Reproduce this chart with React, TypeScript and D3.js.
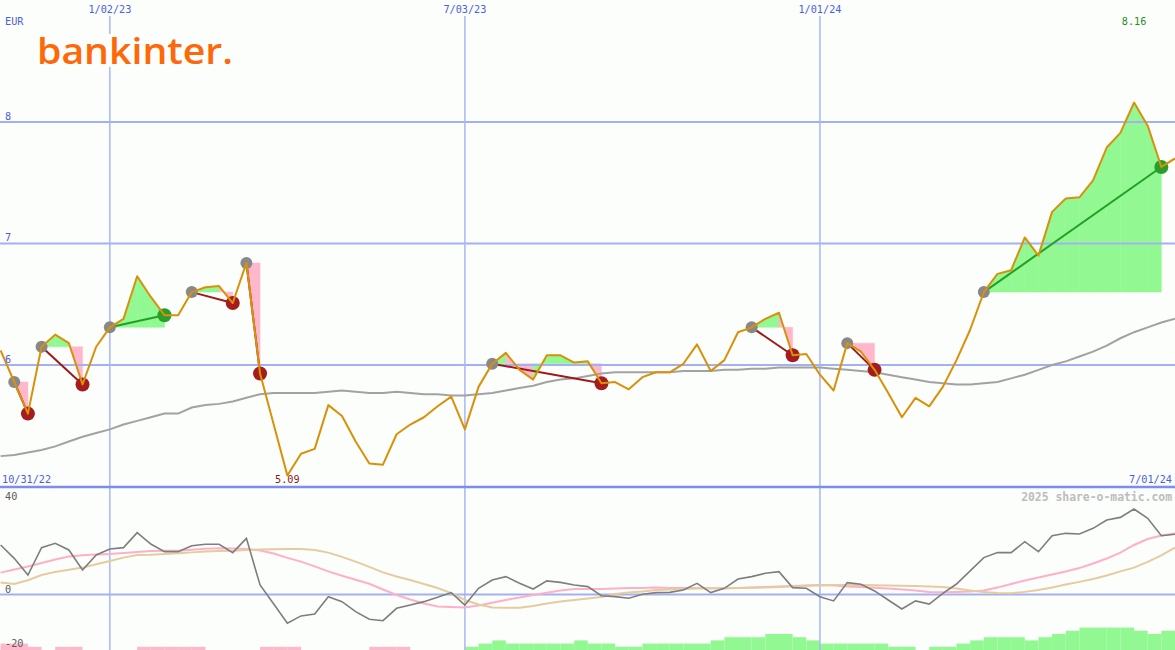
import React from 'react';
import * as d3 from 'd3';

// ---------- DATA ----------
const firstWeek = Date.UTC(2022, 10, 7);
const lastWeek = Date.UTC(2024, 6, 1);

// weekly closes (EUR)
const closes = [
  6.12, 5.86, 5.60, 6.15, 6.25, 6.18, 5.84, 6.15, 6.31, 6.38,
  6.73, 6.56, 6.41, 6.41, 6.60, 6.64, 6.65, 6.51, 6.84, 5.93,
  5.51, 5.09, 5.27, 5.31, 5.67, 5.58, 5.37, 5.19, 5.18, 5.43,
  5.51, 5.57, 5.66, 5.74, 5.47, 5.82, 6.01, 6.10, 5.96, 5.88,
  6.08, 6.08, 6.02, 6.03, 5.85, 5.86, 5.80, 5.90, 5.94, 5.94,
  6.01, 6.17, 5.95, 6.04, 6.27, 6.31, 6.38, 6.43, 6.08, 6.09,
  5.92, 5.79, 6.18, 6.11, 5.96, 5.77, 5.57, 5.73, 5.66, 5.82,
  6.04, 6.29, 6.60, 6.75, 6.78, 7.05, 6.90, 7.26, 7.37, 7.38,
  7.52, 7.79, 7.91, 8.16, 7.97, 7.63, 7.70,
];

// long moving average
const movingAvg = [
  5.25, 5.26, 5.28, 5.30, 5.33, 5.37, 5.41, 5.44, 5.47, 5.51,
  5.54, 5.57, 5.60, 5.60, 5.65, 5.67, 5.68, 5.70, 5.73, 5.76,
  5.77, 5.77, 5.77, 5.77, 5.78, 5.79, 5.78, 5.77, 5.77, 5.78,
  5.77, 5.76, 5.76, 5.75, 5.75, 5.76, 5.77, 5.79, 5.81, 5.83,
  5.86, 5.88, 5.89, 5.91, 5.93, 5.94, 5.94, 5.94, 5.94, 5.94,
  5.95, 5.95, 5.95, 5.96, 5.96, 5.97, 5.97, 5.98, 5.98, 5.98,
  5.98, 5.97, 5.96, 5.95, 5.94, 5.92, 5.90, 5.88, 5.86, 5.85,
  5.84, 5.84, 5.85, 5.86, 5.89, 5.92, 5.96, 6.00, 6.03, 6.07,
  6.11, 6.16, 6.22, 6.27, 6.31, 6.35, 6.38,
];

// lower panel: momentum (gray), fast average (pink), slow average (tan)
const momentum = [
  20.8, 15.2, 8.2, 19.7, 21.5, 18.7, 10.3, 16.6, 19.1, 19.7,
  26.0, 21.2, 18.0, 18.0, 20.5, 21.1, 21.1, 17.6, 23.6, 4.0,
  -4.0, -12.1, -9.0, -8.2, -0.9, -3.0, -7.2, -10.4, -11.0, -5.8,
  -4.4, -3.0, -1.2, 0.8, -4.4, 2.6, 6.1, 7.5, 4.7, 2.3,
  5.7, 5.1, 4.0, 3.3, -0.5, -0.9, -1.6, 0.1, 0.8, 0.9,
  1.9, 4.7, 0.8, 2.6, 6.5, 7.5, 8.9, 9.6, 2.9, 2.6,
  -0.9, -2.7, 5.0, 4.3, 1.5, -2.3, -6.1, -2.7, -4.0, 0.5,
  4.4, 9.9, 15.5, 17.6, 17.6, 22.2, 18.0, 24.7, 25.7, 25.4,
  27.8, 31.3, 32.4, 35.9, 32.0, 24.7, 25.3,
];
const fastAvg = [
  9.2, 10.5, 11.8, 13.2, 14.7, 16.0, 16.5, 16.8, 17.0, 17.4,
  17.9, 18.3, 18.4, 18.4, 18.8, 19.2, 19.4, 19.3, 19.1, 18.5,
  17.2, 15.4, 13.8, 11.8, 9.7, 7.9, 6.2, 4.5, 2.1, -0.2,
  -2.1, -3.8, -5.0, -5.3, -5.5, -4.6, -3.5, -2.3, -1.3, -0.2,
  0.7, 1.7, 2.3, 2.3, 2.3, 2.5, 2.7, 2.7, 2.9, 2.7,
  2.7, 2.7, 2.6, 2.6, 2.7, 2.9, 3.2, 3.4, 3.6, 3.8,
  4.0, 3.8, 3.4, 3.2, 2.8, 2.5, 2.1, 1.7, 1.1, 0.9,
  1.1, 1.3, 1.7, 2.9, 4.4, 5.9, 7.1, 8.4, 9.7, 11.1,
  13.0, 15.1, 17.6, 20.8, 23.3, 24.8, 25.6,
];
const slowAvg = [
  5.0, 4.4, 6.0, 8.2, 9.5, 10.4, 11.3, 12.7, 14.1, 15.5,
  16.6, 16.7, 17.0, 17.3, 17.7, 18.1, 18.3, 18.4, 18.7, 18.9,
  19.0, 19.1, 19.1, 18.7, 17.6, 15.8, 13.8, 11.6, 9.3, 7.6,
  6.1, 4.4, 2.7, 0.6, -2.3, -4.2, -5.5, -5.6, -5.6, -4.8,
  -3.8, -2.9, -2.3, -1.7, -1.1, 0.2, 0.8, 1.3, 1.9, 2.1,
  2.3, 2.5, 2.6, 2.6, 2.7, 2.8, 2.9, 3.2, 3.5, 3.7,
  3.9, 4.0, 4.0, 4.0, 3.9, 3.8, 3.7, 3.6, 3.4, 3.2,
  2.5, 1.7, 1.0, 0.6, 0.5, 1.1, 1.9, 2.9, 4.2, 5.3,
  6.5, 8.0, 9.7, 11.3, 13.7, 16.4, 19.7,
];
// signal strength bars (negative = pink, positive = green)
const strength = [
  -2, -2, -1, 0, -1, -1, 0, 0, 0, 0,
  -1, -1, -1, -1, -1, 0, 0, 0, 0, -1,
  -1, -1, 0, 0, 0, 0, 0, -1, -1, -1,
  0, 0, 0, 0, 1, 2, 3, 2, 2, 2,
  2, 2, 3, 2, 2, 1, 1, 2, 2, 2,
  2, 2, 3, 4, 4, 4, 5, 5, 4, 3,
  2, 2, 2, 2, 2, 1, 1, 0, 1, 1,
  2, 3, 4, 4, 4, 3, 4, 5, 6, 7,
  7, 7, 7, 6, 5, 6,
];

// trades: entry week index -> exit week index
const tradeEntries = [1, 3, 8, 14, 18, 36, 55, 62, 72];
const tradeExits = [2, 6, 12, 17, 19, 44, 58, 64, 85];

const priceTicks = [6, 7, 8];
const gridDates = [Date.UTC(2023, 0, 2), Date.UTC(2023, 6, 3), Date.UTC(2024, 0, 1)];
const gridDateLabels = ['1/02/23', '7/03/23', '1/01/24'];
const oscTicks = [40, 0, -20];
const currency = 'EUR';
const startLabel = '10/31/22';
const endLabel = '7/01/24';
const watermark = '2025 share-o-matic.com';
const logoText = 'bankinter.';

// ---------- STYLE ----------
const W = 1175;
const H = 650;
const BG = '#fbfefb';
const GRID = '#a3b1f2';
const VGRID = '#a8b6f6';
const AXIS_TXT = '#4d5de6';
const MONO = '"DejaVu Sans Mono", monospace';

export default function App() {
  const dates = closes.map((_, i) => new Date(firstWeek + i * 7 * 864e5));
  const x = d3.scaleUtc().domain([new Date(firstWeek), new Date(lastWeek)]).range([0.6, 1175]);
  const y = d3.scaleLinear().domain([6, 8]).range([365, 122]);
  const yo = d3.scaleLinear().domain([0, 40]).range([594.5, 499.3]);
  const hs = d3.scaleLinear().domain([0, 1]).range([0, 3.2]);

  const priceLine = d3.line<number>().x((_, i) => x(dates[i])).y((d) => y(d));
  const oscLine = d3.line<number>().x((_, i) => x(dates[i])).y((d) => yo(d));

  const fills: JSX.Element[] = [];
  tradeEntries.forEach((s, k) => {
    const e = tradeExits[k];
    const lvl = y(closes[s]);
    for (let j = s; j < e; j++) {
      const x0 = x(dates[j]);
      const x1 = x(dates[j + 1]);
      const up = closes[j + 1] >= closes[s];
      const pts = [
        [x0, lvl],
        [x0, y(closes[j])],
        [x1, y(closes[j + 1])],
        [x1, lvl],
      ];
      fills.push(
        <polygon
          key={`f${k}-${j}`}
          points={pts.map((p) => p.join(',')).join(' ')}
          fill={up ? '#92f892' : '#ffb8cb'}
          stroke={up ? '#92f892' : '#ffb8cb'}
          strokeWidth={0.5}
        />
      );
    }
  });

  const iMax = d3.maxIndex(closes);
  const iMin = d3.minIndex(closes);

  return (
    <div style={{ position: 'absolute', left: 0, top: 0 }}>
      <svg width={W} height={H} style={{ display: 'block' }}>
        <rect x={0} y={0} width={W} height={H} fill={BG} />

        {/* lower panel bars */}
        {strength.map((v, i) =>
          v === 0 ? null : (
            <rect
              key={`b${i}`}
              x={x(dates[i])}
              y={650 - hs(Math.abs(v))}
              width={(i + 1 < dates.length ? x(dates[i + 1]) : W) - x(dates[i])}
              height={hs(Math.abs(v)) + 2}
              fill={v > 0 ? '#92f892' : '#ffb8cb'}
            />
          )
        )}

        {/* trade fills */}
        {fills}

        {/* grid */}
        {priceTicks.map((t) => (
          <line key={`h${t}`} x1={0} x2={W} y1={y(t)} y2={y(t)} stroke={GRID} strokeWidth={2} />
        ))}
        {gridDates.map((d) => (
          <line key={`v${d}`} x1={x(new Date(d))} x2={x(new Date(d))} y1={16} y2={H} stroke={VGRID} strokeWidth={1.5} />
        ))}
        <line x1={0} x2={W} y1={yo(0)} y2={yo(0)} stroke={GRID} strokeWidth={2} />
        <line x1={0} x2={W} y1={487} y2={487} stroke="#7d8de8" strokeWidth={2.5} />

        {/* logo */}
        <rect x={30} y={34} width={212} height={33} fill={BG} />
        <text
          x={37}
          y={64}
          fontFamily='"Open Sans", "Noto Sans", sans-serif'
          fontWeight={600}
          fontSize={36}
          fill="#ff6808"
          textLength={196}
          lengthAdjust="spacingAndGlyphs"
        >
          {logoText}
        </text>

        {/* moving average */}
        <path d={priceLine(movingAvg) ?? ''} fill="none" stroke="#a2a2a2" strokeWidth={2} />

        {/* trade connectors */}
        {tradeEntries.map((s, k) => {
          const e = tradeExits[k];
          const win = closes[e] > closes[s];
          return (
            <line
              key={`c${k}`}
              x1={x(dates[s])}
              y1={y(closes[s])}
              x2={x(dates[e])}
              y2={y(closes[e])}
              stroke={win ? '#23a023' : '#9e1a1a'}
              strokeWidth={2}
            />
          );
        })}
        {tradeEntries.map((s, k) => (
          <circle key={`ds${k}`} cx={x(dates[s])} cy={y(closes[s])} r={6} fill="#888888" />
        ))}
        {tradeExits.map((e, k) => {
          const win = closes[e] > closes[tradeEntries[k]];
          return (
            <circle key={`de${k}`} cx={x(dates[e])} cy={y(closes[e])} r={7} fill={win ? '#2a9e2a' : '#a51c1c'} />
          );
        })}

        {/* price line */}
        <path d={priceLine(closes) ?? ''} fill="none" stroke="#d9900a" strokeWidth={2} strokeLinejoin="round" />

        {/* lower panel lines */}
        <path d={oscLine(fastAvg) ?? ''} fill="none" stroke="#ffb0c8" strokeWidth={2} />
        <path d={oscLine(slowAvg) ?? ''} fill="none" stroke="#e5cc9e" strokeWidth={2} />
        <path d={oscLine(momentum) ?? ''} fill="none" stroke="#7e7e7e" strokeWidth={1.6} />

        {/* texts */}
        <g fontFamily={MONO} fontSize={10.2}>
          <text x={5} y={25} fill={AXIS_TXT}>{currency}</text>
          {gridDates.map((d, i) => (
            <text key={`gl${i}`} x={x(new Date(d))} y={13} textAnchor="middle" fill={AXIS_TXT}>
              {gridDateLabels[i]}
            </text>
          ))}
          {priceTicks.map((t) => (
            <text key={`pl${t}`} x={5} y={y(t) - 2.5} fill={AXIS_TXT}>{t}</text>
          ))}
          <text x={2} y={483} fill={AXIS_TXT}>{startLabel}</text>
          <text x={1172} y={483} textAnchor="end" fill={AXIS_TXT}>{endLabel}</text>
          <text x={x(dates[iMin])} y={483} textAnchor="middle" fill="#8c1b1b">{closes[iMin].toFixed(2)}</text>
          <text x={x(dates[iMax])} y={25} textAnchor="middle" fill="#1f8f1f">{closes[iMax].toFixed(2)}</text>
          {oscTicks.map((t) => (
            <text key={`ol${t}`} x={5} y={t === 40 ? 500 : t === 0 ? 593 : 647} fill="#5a5a5a">{t}</text>
          ))}
          <text x={1172} y={501} textAnchor="end" fill="#bdbdbd" fontWeight="bold" fontSize={11.4}>
            {watermark}
          </text>
        </g>
      </svg>
    </div>
  );
}
